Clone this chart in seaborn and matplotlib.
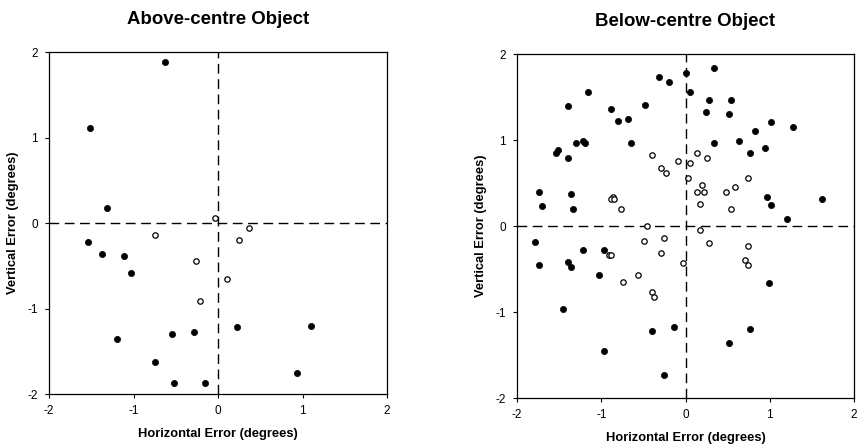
import numpy as np
import pandas as pd
import matplotlib
matplotlib.use("Agg")
import matplotlib.pyplot as plt
import seaborn as sns

# ---- data (degrees) ----
# Above-centre object
above_filled_x = [-0.63, -1.51, -1.31, -1.54, -1.37, -1.11, -1.03, -1.20, -0.55, -0.29,
                  0.22, 1.10, -0.75, -0.52, -0.15, 0.93]
above_filled_y = [1.88, 1.11, 0.17, -0.22, -0.36, -0.39, -0.59, -1.36, -1.30, -1.28,
                  -1.22, -1.20, -1.62, -1.87, -1.87, -1.76]
above_open_x = [-0.03, -0.74, 0.37, 0.25, -0.26, 0.11, -0.21]
above_open_y = [0.06, -0.14, -0.06, -0.20, -0.45, -0.65, -0.91]

# Below-centre object
below_filled_x = [-0.32, -0.20, 0.00, 0.34, 0.05, 0.28, 0.54, 0.24, 0.51, 1.02,
                  1.28, 0.82, 0.63, 0.34, 0.94, 0.77, -1.16, -1.39, -0.88, -0.48,
                  -0.68, -0.80, -1.22, -1.30, -1.19, -0.65, -1.51, -1.54, -1.39, -1.74,
                  -1.70, -1.36, -1.34, 0.97, 1.02, 1.62, 1.20, -1.79, -1.74, -1.39,
                  -1.36, -1.22, -0.97, -1.03, -1.45, 0.99, -0.14, -0.40, 0.76, 0.51,
                  -0.97, -0.26]
below_filled_y = [1.73, 1.67, 1.78, 1.84, 1.56, 1.47, 1.47, 1.33, 1.30, 1.21,
                  1.15, 1.10, 0.99, 0.96, 0.91, 0.85, 1.56, 1.39, 1.36, 1.41,
                  1.25, 1.22, 0.99, 0.96, 0.96, 0.96, 0.88, 0.85, 0.79, 0.40,
                  0.23, 0.37, 0.20, 0.34, 0.25, 0.31, 0.08, -0.19, -0.45, -0.42,
                  -0.48, -0.28, -0.28, -0.57, -0.96, -0.66, -1.17, -1.22, -1.20, -1.36,
                  -1.45, -1.73]
below_open_x = [-0.40, -0.29, -0.23, -0.09, 0.05, 0.14, 0.25, 0.03, 0.20, 0.14,
                0.22, 0.17, 0.48, 0.59, 0.74, 0.54, -0.86, -0.88, -0.85, -0.77,
                -0.46, -0.49, -0.26, -0.29, -0.91, -0.88, -0.57, -0.74, -0.40, -0.37,
                -0.03, 0.17, 0.28, 0.74, 0.71, 0.74]
below_open_y = [0.82, 0.68, 0.62, 0.76, 0.73, 0.85, 0.79, 0.56, 0.48, 0.40,
                0.40, 0.26, 0.40, 0.45, 0.56, 0.20, 0.34, 0.31, 0.31, 0.20,
                0.00, -0.17, -0.14, -0.31, -0.34, -0.34, -0.57, -0.65, -0.77, -0.82,
                -0.43, -0.05, -0.20, -0.23, -0.40, -0.45]

panels = [
    ("Above-centre Object", above_filled_x, above_filled_y, above_open_x, above_open_y),
    ("Below-centre Object", below_filled_x, below_filled_y, below_open_x, below_open_y),
]
ticks = [-2, -1, 0, 1, 2]

sns.set_style("ticks")
plt.rcParams["font.family"] = ["Liberation Sans", "DejaVu Sans"]
plt.rcParams["axes.unicode_minus"] = False
plt.rcParams["text.color"] = "black"
plt.rcParams["axes.labelcolor"] = "black"

fig = plt.figure(figsize=(8.58, 4.45), dpi=100)
boxes = [[0.0571, 0.1146, 0.394, 0.7685], [0.6026, 0.1056, 0.3928, 0.773]]

for box, (title, fx, fy, ox, oy) in zip(boxes, panels):
    ax = fig.add_axes(box)
    ax.axhline(0, color="black", lw=1, ls=(0, (7, 4)), zorder=1)
    ax.axvline(0, color="black", lw=1, ls=(0, (7, 4)), zorder=1)
    sns.scatterplot(x=fx, y=fy, ax=ax, color="black", s=20, edgecolor="black",
                    linewidth=0.5, zorder=3)
    sns.scatterplot(x=ox, y=oy, ax=ax, color="white", s=15, edgecolor="black",
                    linewidth=0.9, zorder=3)
    ax.set_xlim(-2, 2)
    ax.set_ylim(-2, 2)
    ax.set_xticks(ticks)
    ax.set_yticks(ticks)
    ax.tick_params(direction="out", length=3, width=0.8, labelsize=8.5, pad=5, colors="black")
    for sp in ax.spines.values():
        sp.set_color("black")
        sp.set_linewidth(0.9)
    ax.set_title(title, fontsize=13.4, fontweight="bold", pad=20)
    ax.set_xlabel("Horizontal Error (degrees)", fontsize=9.3, fontweight="bold", labelpad=8)
    ax.set_ylabel("Vertical Error (degrees)", fontsize=9.3, fontweight="bold", labelpad=6)

fig.savefig("out.png", dpi=100)
